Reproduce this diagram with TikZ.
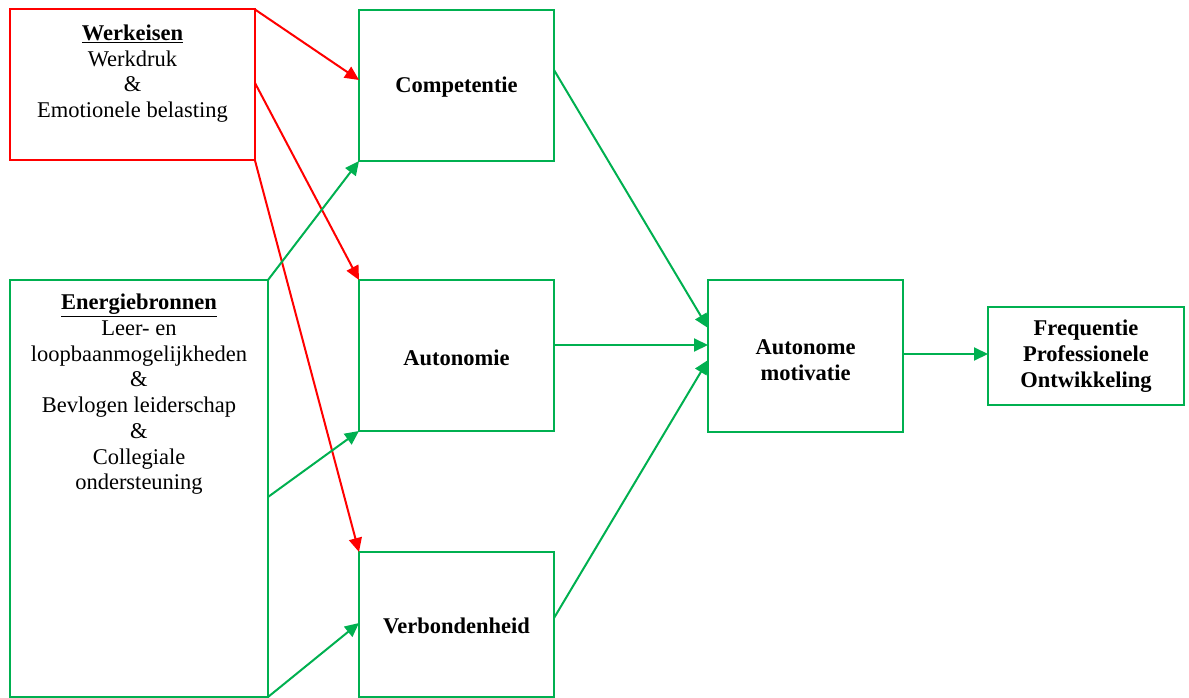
\documentclass[tikz,border=0pt]{standalone}
\usepackage{fontspec}
\setmainfont{Liberation Serif}
\usetikzlibrary{arrows.meta}
\definecolor{myred}{RGB}{255,0,0}
\definecolor{mygreen}{RGB}{0,176,80}
\tikzset{
  box/.style={draw, rectangle, line width=2pt, inner sep=0pt, outer sep=0pt},
  redbox/.style={box, draw=myred},
  greenbox/.style={box, draw=mygreen},
  lbl/.style={align=center, inner sep=0pt, font=\fontsize{22.5}{25.7}\selectfont},
  blbl/.style={lbl, font=\fontsize{22.5}{25.7}\selectfont\bfseries},
  redarrow/.style={draw=myred, line width=2pt, -{Triangle[length=14pt,width=13pt]}, fill=myred},
  greenarrow/.style={draw=mygreen, line width=2pt, -{Triangle[length=14pt,width=13pt]}, fill=mygreen},
}
\begin{document}
\begin{tikzpicture}[x=1pt, y=-1pt]
\useasboundingbox (0,0) rectangle (1189,698);
% boxes
\node[redbox, minimum width=245pt, minimum height=151pt] (werk) at (132.5,85) {};
\node[greenbox, minimum width=258pt, minimum height=417pt] (energ) at (139,488.5) {};
\node[greenbox, minimum width=195pt, minimum height=151pt] (comp) at (456.5,85.5) {};
\node[greenbox, minimum width=195pt, minimum height=151pt] (auto) at (456.5,355.5) {};
\node[greenbox, minimum width=195pt, minimum height=145pt] (verb) at (456.5,624.5) {};
\node[greenbox, minimum width=195pt, minimum height=152pt] (am) at (805.5,356) {};
\node[greenbox, minimum width=196pt, minimum height=98pt] (freq) at (1086,356) {};
% texts
\node[lbl, anchor=north] (werktxt) at ([yshift=-15pt]werk.north) {\textbf{\underline{Werkeisen}}\\Werkdruk\\\&\\Emotionele belasting};
\node[lbl, anchor=north] (energtxt) at ([yshift=-14pt]energ.north) {\textbf{\underline{Energiebronnen}}\\Leer- en\\loopbaanmogelijkheden\\\&\\Bevlogen leiderschap\\\&\\Collegiale\\ondersteuning};
\node[blbl] (comptxt) at ([yshift=-2pt]comp.center) {Competentie};
\node[blbl] (autotxt) at ([yshift=-2pt]auto.center) {Autonomie};
\node[blbl] (verbtxt) at ([yshift=-1pt]verb.center) {Verbondenheid};
\node[blbl] (amtxt) at ([yshift=-4pt]am.center) {Autonome\\motivatie};
\node[blbl] (freqtxt) at ([yshift=0pt]freq.center) {Frequentie\\Professionele\\Ontwikkeling};
% red arrows
\draw[redarrow] (werk.north east) -- ([yshift=5.5pt]comp.west);
\draw[redarrow] ([yshift=2pt]werk.east) -- (auto.north west);
\draw[redarrow] (werk.south east) -- (verb.north west);
% green arrows
\draw[greenarrow] (energ.north east) -- (comp.south west);
\draw[greenarrow] ([yshift=-8.5pt]energ.east) -- (auto.south west);
\draw[greenarrow] (energ.south east) -- ([yshift=1.5pt]verb.west);
\draw[greenarrow] ([yshift=15.5pt]comp.east) -- ([yshift=28pt]am.west);
\draw[greenarrow] ([yshift=10.5pt]auto.east) -- ([yshift=11pt]am.west);
\draw[greenarrow] ([yshift=6.5pt]verb.east) -- ([yshift=-4pt]am.west);
\draw[greenarrow] ([yshift=2pt]am.east) -- ([yshift=2pt]freq.west);
\end{tikzpicture}
\end{document}
